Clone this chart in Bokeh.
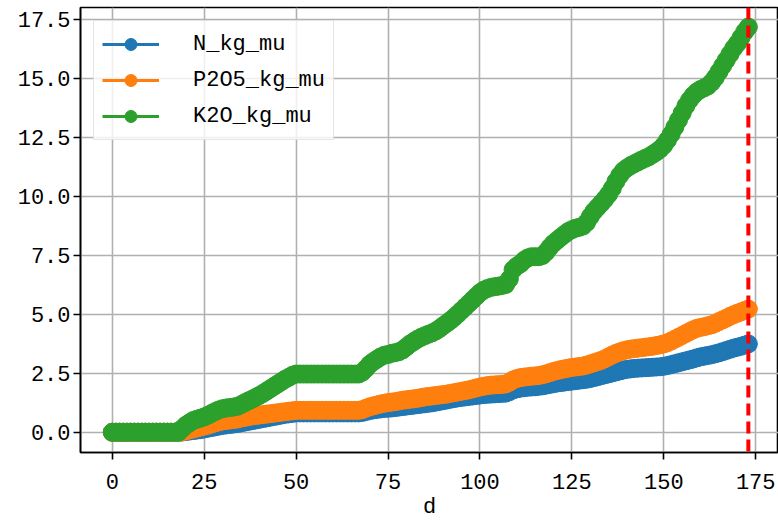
from bokeh.plotting import figure
from bokeh.models import Range1d, FixedTicker, PrintfTickFormatter, Span, Legend, LegendItem
from bokeh.embed import file_html
from bokeh.resources import INLINE

days = list(range(174))

N_kg_mu = [
    0, 0, 0, 0, 0, 0, 0, 0, 0, 0, 0, 0, 0, 0, 0, 0, 0, 0, 0,
    0.01, 0.03, 0.05, 0.07, 0.09, 0.11, 0.14, 0.17, 0.2, 0.23,
    0.26, 0.29, 0.31, 0.33, 0.35, 0.37, 0.4, 0.43, 0.46, 0.49,
    0.52, 0.55, 0.58, 0.61, 0.64, 0.67, 0.7, 0.73, 0.76, 0.78,
    0.8, 0.82,
    0.82, 0.82, 0.82, 0.82, 0.82, 0.82, 0.82, 0.82, 0.82, 0.82, 0.82, 0.82, 0.82, 0.82, 0.82, 0.82, 0.82,
    0.84, 0.88, 0.92, 0.95, 0.97, 0.99, 1.01, 1.02, 1.03, 1.05,
    1.07, 1.09, 1.11, 1.13, 1.15, 1.17, 1.19, 1.21, 1.23, 1.25,
    1.28, 1.31, 1.34, 1.37, 1.4, 1.43, 1.46, 1.48, 1.5, 1.52,
    1.54, 1.56, 1.58, 1.6, 1.61, 1.62, 1.63, 1.64, 1.65, 1.66,
    1.72, 1.8, 1.84, 1.87, 1.89, 1.91, 1.92, 1.93, 1.95, 1.97,
    2.0, 2.03, 2.06, 2.09, 2.11, 2.13, 2.15, 2.17, 2.19, 2.21,
    2.23, 2.25, 2.28, 2.32, 2.36, 2.4, 2.44, 2.48, 2.52, 2.56,
    2.6, 2.64, 2.67, 2.69, 2.71, 2.72, 2.73, 2.74, 2.75, 2.76,
    2.77, 2.78, 2.8, 2.83, 2.87, 2.91, 2.95, 2.99, 3.03, 3.07,
    3.11, 3.16, 3.2, 3.23, 3.26, 3.29, 3.33, 3.37, 3.42, 3.47,
    3.52, 3.57, 3.61, 3.65, 3.7, 3.75,
]

P2O5_kg_mu = [
    0, 0, 0, 0, 0, 0, 0, 0, 0, 0, 0, 0, 0, 0, 0, 0, 0, 0, 0,
    0.02, 0.06, 0.1, 0.14, 0.18, 0.22, 0.26, 0.3, 0.35, 0.4,
    0.44, 0.48, 0.5, 0.52, 0.54, 0.56, 0.6, 0.63, 0.66, 0.69,
    0.71, 0.73, 0.75, 0.77, 0.79, 0.81, 0.83, 0.85, 0.87, 0.89,
    0.91, 0.93,
    0.93, 0.93, 0.93, 0.93, 0.93, 0.93, 0.93, 0.93, 0.93, 0.93, 0.93, 0.93, 0.93, 0.93, 0.93, 0.93, 0.93,
    0.96, 1.02, 1.08, 1.12, 1.16, 1.2, 1.23, 1.26, 1.28, 1.3,
    1.33, 1.36, 1.38, 1.4, 1.42, 1.44, 1.47, 1.5, 1.52, 1.54,
    1.56, 1.58, 1.6, 1.62, 1.65, 1.68, 1.71, 1.74, 1.77, 1.8,
    1.84, 1.88, 1.92, 1.95, 1.98, 2.0, 2.01, 2.02, 2.03, 2.05,
    2.12, 2.22, 2.28, 2.32, 2.34, 2.36, 2.38, 2.39, 2.41, 2.44,
    2.48, 2.53, 2.58, 2.62, 2.66, 2.69, 2.72, 2.75, 2.77, 2.79,
    2.81, 2.85, 2.9, 2.95, 3.0, 3.05, 3.12, 3.2, 3.28, 3.35,
    3.41, 3.46, 3.5, 3.53, 3.55, 3.57, 3.59, 3.61, 3.63, 3.65,
    3.68, 3.71, 3.75, 3.8, 3.87, 3.95, 4.03, 4.11, 4.19, 4.27,
    4.35, 4.41, 4.45, 4.48, 4.52, 4.56, 4.62, 4.7, 4.77, 4.84,
    4.92, 4.99, 5.05, 5.11, 5.17, 5.23,
]

K2O_kg_mu = [
    0, 0, 0, 0, 0, 0, 0, 0, 0, 0, 0, 0, 0, 0, 0, 0, 0, 0, 0,
    0.15, 0.3, 0.4, 0.5, 0.55, 0.6, 0.65, 0.72, 0.8, 0.88,
    0.95, 1.0, 1.03, 1.05, 1.07, 1.1, 1.17, 1.25, 1.33, 1.4,
    1.48, 1.56, 1.65, 1.75, 1.85, 1.95, 2.05, 2.15, 2.25, 2.33,
    2.42, 2.47,
    2.47, 2.47, 2.47, 2.47, 2.47, 2.47, 2.47, 2.47, 2.47, 2.47, 2.47, 2.47, 2.47, 2.47, 2.47, 2.47, 2.47,
    2.55, 2.7, 2.88, 3.0, 3.1, 3.2, 3.27, 3.3, 3.35, 3.38,
    3.42, 3.5, 3.62, 3.75, 3.85, 3.95, 4.03, 4.1, 4.16, 4.22,
    4.3, 4.4, 4.52, 4.63, 4.75, 4.88, 5.02, 5.17, 5.32, 5.47,
    5.62, 5.77, 5.92, 6.03, 6.1, 6.15, 6.18, 6.2, 6.23, 6.27,
    6.5, 6.9, 7.05, 7.15, 7.3, 7.4, 7.45, 7.45, 7.45, 7.5,
    7.65, 7.85, 8.02, 8.15, 8.28, 8.4, 8.52, 8.6, 8.66, 8.7,
    8.75, 8.9, 9.15, 9.38, 9.55, 9.72, 9.9, 10.1, 10.35, 10.65,
    10.9, 11.1, 11.22, 11.32, 11.4, 11.48, 11.56, 11.63, 11.7, 11.8,
    11.9, 12.02, 12.18, 12.4, 12.65, 12.95, 13.25, 13.55, 13.85, 14.1,
    14.3, 14.45, 14.55, 14.62, 14.7, 14.85, 15.05, 15.3, 15.55, 15.8,
    16.05, 16.3, 16.5, 16.75, 17.0, 17.2,
]

series_names = ["N_kg_mu", "P2O5_kg_mu", "K2O_kg_mu"]
series_values = [N_kg_mu, P2O5_kg_mu, K2O_kg_mu]
series_colors = ["#1f77b4", "#ff7f0e", "#2ca02c"]

x_ticks = [0, 25, 50, 75, 100, 125, 150, 175]
y_ticks = [0.0, 2.5, 5.0, 7.5, 10.0, 12.5, 15.0, 17.5]
end_day = 173
x_label = "d"

FONT = "Liberation Mono"
FS = "22px"

p = figure(width=778, height=523, output_backend="svg", toolbar_location=None,
           x_range=Range1d(-8.65, 181.2), y_range=Range1d(-0.86, 18.03),
           min_border_left=80, min_border_right=0, min_border_top=7, min_border_bottom=71)
p.background_fill_color = "white"
p.border_fill_color = "white"
p.outline_line_color = "black"
p.outline_line_width = 1.6

items = []
for name, vals, col in zip(series_names, series_values, series_colors):
    assert len(vals) == len(days)
    r1 = p.line(days, vals, line_color=col, line_width=3)
    r2 = p.scatter(days, vals, size=18, fill_color=col, line_color=col)
    items.append(LegendItem(label=name, renderers=[r1, r2]))

p.add_layout(Span(location=end_day, dimension="height", line_color="red",
                  line_dash="12 6", line_width=4))

for ax in (p.xaxis[0], p.yaxis[0]):
    ax.axis_line_color = "black"
    ax.axis_line_width = 1.6
    ax.major_tick_line_color = "black"
    ax.major_tick_line_width = 1.6
    ax.major_tick_out = 7
    ax.major_tick_in = 0
    ax.minor_tick_line_color = None
    ax.major_label_text_font = FONT
    ax.major_label_text_font_size = FS
    ax.major_label_text_color = "black"

p.xaxis.ticker = FixedTicker(ticks=x_ticks)
p.yaxis.ticker = FixedTicker(ticks=y_ticks)
p.yaxis.formatter = PrintfTickFormatter(format="%.1f")
p.xaxis.major_label_standoff = 14
p.yaxis.major_label_standoff = 3
p.xaxis.axis_label = x_label
p.xaxis.axis_label_text_font = FONT
p.xaxis.axis_label_text_font_size = FS
p.xaxis.axis_label_text_font_style = "normal"
p.xaxis.axis_label_text_color = "black"
p.xaxis.axis_label_standoff = 3

p.xgrid.grid_line_color = "#b0b0b0"
p.ygrid.grid_line_color = "#b0b0b0"
p.xgrid.grid_line_width = 1.6
p.ygrid.grid_line_width = 1.6
p.xgrid.ticker = FixedTicker(ticks=x_ticks)
p.ygrid.ticker = FixedTicker(ticks=y_ticks)

legend = Legend(items=items, location="top_left")
legend.margin = 13
legend.padding = 8
legend.spacing = 6
legend.glyph_width = 57
legend.glyph_height = 30
legend.label_height = 30
legend.label_standoff = 34
legend.label_text_font = FONT
legend.label_text_font_size = FS
legend.label_text_color = "black"
legend.background_fill_color = "white"
legend.background_fill_alpha = 0.8
legend.border_line_color = "#cccccc"
legend.border_line_width = 1.5
p.add_layout(legend)

open("out.html", "w").write(file_html(p, INLINE))
